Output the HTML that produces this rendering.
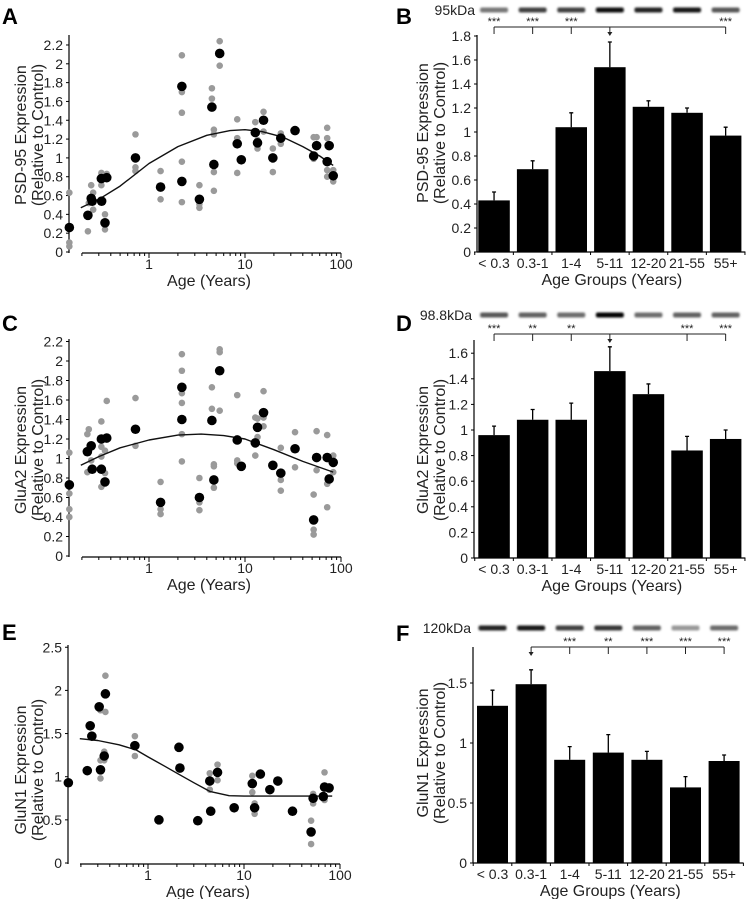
<!DOCTYPE html>
<html><head><meta charset="utf-8">
<style>
html,body{margin:0;padding:0;background:#fff;}
svg{display:block;font-family:"Liberation Sans",Arial,sans-serif;}
</style></head>
<body>
<svg id="fig" width="749" height="899" viewBox="0 0 749 899" xmlns="http://www.w3.org/2000/svg">
<defs><filter id="blur" x="-20%" y="-100%" width="140%" height="300%"><feGaussianBlur stdDeviation="1.1"/></filter></defs>
</svg>
<script>
// ---------- Panel A data (PSD-95) ----------
const aBlackAge = [0.148,0.231,0.25,0.256,0.319,0.321,0.348,0.363,0.723,1.32,2.2,2.2,3.35,4.52,4.74,5.45,8.3,9.15,12.8,13.5,15.6,19.5,23.6,33.2,51.9,55.7,71.8,75.3,83];
const aBlackVal = [0.26,0.39,0.57,0.54,0.78,0.54,0.31,0.79,1.0,0.69,0.75,1.76,0.56,1.54,0.93,2.11,1.15,0.98,1.27,1.16,1.40,1.0,1.21,1.29,1.02,1.13,0.96,1.13,0.81];
const aGreyAge = [0.148,0.148,0.148,0.231,0.236,0.25,0.262,0.262,0.319,0.319,0.348,0.348,0.363,0.723,0.723,0.723,1.32,1.32,2.2,2.2,2.2,2.2,2.2,3.35,3.35,3.35,4.52,4.52,4.74,4.74,4.74,4.74,5.45,5.45,8.3,8.3,8.3,12.8,13.5,13.5,15.6,15.6,19.5,19.5,23.6,23.6,51.9,51.9,55.7,71.8,71.8,71.8,71.8,83,83];
const aGreyVal = [0.63,0.10,0.06,0.22,0.52,0.71,0.63,0.45,0.84,0.71,0.40,0.24,0.83,1.25,0.90,0.86,0.86,0.56,2.09,1.70,1.48,0.96,0.53,0.71,0.51,0.47,1.74,1.63,1.30,1.25,0.85,0.65,2.24,1.98,1.41,1.21,0.84,1.38,1.19,1.10,1.49,1.28,1.10,0.85,1.26,1.15,1.22,0.99,1.22,1.32,1.21,0.87,0.80,0.87,0.75];
const aCurveAge = [0.195,0.3,0.5,1,2,4,7,10,15,25,40,60,83];
const aCurveVal = [0.47,0.56,0.70,0.94,1.12,1.24,1.29,1.30,1.28,1.22,1.12,1.02,0.92];
const aTicks = [0,0.2,0.4,0.6,0.8,1,1.2,1.4,1.6,1.8,2,2.2];
const aTickLabels = ["0","0.2","0.4","0.6","0.8","1","1.2","1.4","1.6","1.8","2","2.2"];

// ---------- Panel C data (GluA2) ----------
const cBlackAge = [0.148,0.228,0.25,0.256,0.319,0.319,0.348,0.363,0.723,1.32,2.2,2.2,3.35,4.52,4.74,5.45,8.3,9.15,12.8,13.5,15.6,19.5,23.6,33.2,51.9,55.7,71.8,75.3,83];
const cBlackVal = [0.73,1.07,1.13,0.89,1.20,0.89,0.76,1.21,1.30,0.55,1.73,1.40,0.60,1.39,0.78,1.90,1.19,0.92,1.16,1.32,1.47,0.93,0.85,1.10,0.37,1.01,1.01,0.79,0.96];
const cGreyAge = [0.148,0.148,0.148,0.148,0.228,0.236,0.228,0.25,0.319,0.319,0.319,0.319,0.348,0.363,0.348,0.723,0.723,1.32,1.32,1.32,2.2,2.2,2.2,2.2,2.2,2.2,3.35,3.35,3.35,4.52,4.52,4.74,4.74,4.74,5.45,5.45,5.45,8.3,8.3,8.3,12.8,12.8,13.5,13.5,15.6,15.6,15.6,23.6,23.6,23.6,33.2,33.2,51.9,51.9,51.9,55.7,55.7,71.8,71.8,71.8,83,83];
const cGreyVal = [1.06,0.64,0.48,0.40,1.25,1.30,0.86,0.98,1.38,1.12,1.02,0.71,1.08,1.59,0.85,1.62,1.13,0.76,0.48,0.43,2.07,1.90,1.67,1.57,1.25,0.97,0.80,0.55,0.47,1.73,1.51,0.94,0.92,0.70,2.12,2.09,1.49,1.65,0.98,0.95,1.42,1.03,1.41,1.22,1.69,1.42,1.33,1.11,0.78,0.67,1.27,0.91,0.63,0.27,0.22,1.28,0.88,1.24,0.74,0.50,1.03,0.86];
const cCurveAge = [0.195,0.3,0.5,1,2,3.5,6,10,20,40,83];
const cCurveVal = [0.93,1.02,1.11,1.19,1.24,1.25,1.235,1.20,1.09,0.97,0.86];

// ---------- Panel E data (GluN1) ----------
const eBlackAge = [0.148,0.233,0.25,0.26,0.31,0.32,0.35,0.36,0.73,1.3,2.1,2.15,3.3,4.4,4.5,5.3,7.9,12.2,12.9,14.8,18.6,22.5,32,50,52.5,67,69,77];
const eBlackVal = [0.93,1.07,1.59,1.47,1.81,1.08,1.24,1.96,1.36,0.50,1.34,1.10,0.49,0.95,0.60,1.05,0.64,0.92,0.64,1.03,0.85,0.95,0.60,0.36,0.75,0.77,0.88,0.87];
const eGreyAge = [0.32,0.32,0.32,0.36,0.36,0.35,0.35,0.73,0.73,2.1,4.4,4.4,5.3,5.3,12.2,12.2,12.9,12.9,50,50,52.5,52.5,69,69];
const eGreyVal = [0.98,1.19,1.77,2.17,1.75,1.29,1.19,1.47,1.24,1.36,1.04,0.85,1.14,0.96,1.01,0.82,0.69,0.57,0.49,0.22,0.80,0.69,1.05,0.73];
const eCurveAge = [0.195,0.3,0.5,0.75,1,1.5,2,3,4.4,7,10,83];
const eCurveVal = [1.44,1.42,1.37,1.31,1.23,1.12,1.04,0.93,0.83,0.78,0.775,0.775];
const eTicks = [0,0.5,1,1.5,2,2.5];
const eTickLabels = ["0","0.5","1","1.5","2","2.5"];

// ---------- Bar panels ----------
const groups = ["< 0.3","0.3-1","1-4","5-11","12-20","21-55","55+"];
const bVals = [0.43,0.69,1.04,1.54,1.21,1.16,0.97];
const bErr  = [0.07,0.07,0.12,0.21,0.05,0.04,0.07];
const bStars = ["***","***","***","","","","***"];
const bBand = [0.45,0.7,0.7,0.95,0.85,0.9,0.6];
const dVals = [0.96,1.08,1.08,1.46,1.28,0.84,0.93];
const dErr  = [0.07,0.08,0.13,0.19,0.08,0.11,0.07];
const dStars = ["***","**","**","","","***","***"];
const dBand = [0.6,0.55,0.5,1.0,0.5,0.55,0.55];
const fVals = [1.31,1.49,0.86,0.92,0.86,0.63,0.85];
const fErr  = [0.13,0.12,0.11,0.15,0.07,0.09,0.05];
const fStars = ["","","***","**","***","***","***"];
const fBand = [0.85,0.9,0.7,0.75,0.55,0.3,0.5];
const bTicks = [0,0.2,0.4,0.6,0.8,1,1.2,1.4,1.6,1.8];
const dTicks = [0,0.2,0.4,0.6,0.8,1,1.2,1.4,1.6];
const fTicks = [0,0.5,1,1.5];

const NS = "http://www.w3.org/2000/svg";
const svg = document.getElementById('fig');
function el(tag, attrs, parent, text){
  const e = document.createElementNS(NS, tag);
  for (const k in attrs) e.setAttribute(k, attrs[k]);
  if (text !== undefined) e.textContent = text;
  (parent || svg).appendChild(e);
  return e;
}
function fmt(v){ return String(Math.round(v*100)/100); }

function scatterPanel(o){
  const g = el('g', {});
  
  
  const xs = a => o.x1 + o.dec*Math.log10(a);
  const ys = v => o.y0 - v*o.ppu;
  // letter
  const L = el('text', {x:o.lx, y:o.ly, 'font-size':22, 'font-weight':'bold'}, g, o.letter);
  
  
  // y axis
  const ya = el('line', {x1:o.ax, y1:o.top, x2:o.ax, y2:o.y0+1, stroke:'#000', 'stroke-width':1.2}, g);
  
  
  o.ticks.forEach((t,i)=>{
    el('line', {x1:o.ax-3, y1:ys(t), x2:o.ax, y2:ys(t), stroke:'#000'}, g);
    const tl = el('text', {x:o.ax-6, y:ys(t)+5, 'font-size':14, 'text-anchor':'end', fill:'#222'}, g, o.tickLabels[i]);
    
    
  });
  // x axis
  const xy = o.y0 + 1;
  const xa = el('line', {x1:o.xStart, y1:xy, x2:o.x1+2*o.dec, y2:xy, stroke:'#000', 'stroke-width':1.2}, g);
  
  
  for (let d=-1; d<=1; d++){
    for (let m=1; m<=9; m++){
      const a = m*Math.pow(10,d);
      const x = xs(a);
      if (x < o.xStart-0.5) continue;
      el('line', {x1:x, y1:xy, x2:x, y2:xy+(m===1?5:3), stroke:'#000'}, g);
    }
  }
  el('line', {x1:xs(100), y1:xy, x2:xs(100), y2:xy+5, stroke:'#000'}, g);
  [[1,"1"],[10,"10"],[100,"100"]].forEach(p=>{
    const t = el('text', {x:xs(p[0]), y:xy+16, 'font-size':14, 'text-anchor':'middle', fill:'#222'}, g, p[1]);
    
    
  });
  const xt = el('text', {x:(o.x1+o.x1+o.dec)/2+12, y:xy+33, 'font-size':16, 'text-anchor':'middle', fill:'#222'}, g, 'Age (Years)');
  
  
  const yt = el('text', {transform:`translate(${o.tx},${o.tcy}) rotate(-90)`, 'font-size':16, 'text-anchor':'middle', fill:'#222'}, g);
  
  
  el('tspan', {x:0, y:0}, yt, o.title1);
  el('tspan', {x:0, y:17}, yt, '(Relative to Control)');
  // grey points
  o.gAge.forEach((a,i)=>{
    const c = el('circle', {cx:xs(a), cy:ys(o.gVal[i]), r:3.3, fill:'#9a9a9a'}, g);
    
    
  });
  // curve
  let d = '';
  o.cAge.forEach((a,i)=>{ d += (i?'L':'M') + xs(a).toFixed(1) + ',' + ys(o.cVal[i]).toFixed(1); });
  const cu = el('path', {d:d, fill:'none', stroke:'#111', 'stroke-width':1.4, 'stroke-linejoin':'round'}, g);
  
  
  // black points
  o.bAge.forEach((a,i)=>{
    const c = el('circle', {cx:xs(a), cy:ys(o.bVal[i]), r:4.8, fill:'#000'}, g);
    
    
  });
}

function barPanel(o){
  const g = el('g', {});
  
  
  const ys = v => o.y0 - v*o.ppu;
  const bx = i => o.bar0 + i*o.step;
  const cx = i => bx(i) + o.bw/2;
  const L = el('text', {x:o.lx, y:o.ly, 'font-size':22, 'font-weight':'bold'}, g, o.letter);
  
  
  // blot
  const kd = el('text', {x:o.ax-2, y:o.blotY+5, 'font-size':o.kdSize||14, 'text-anchor':'end', fill:'#222'}, g, o.kda);
  
  
  o.band.forEach((b,i)=>{
    const v = Math.round(255*(1-b)*0.85);
    const r = el('rect', {x:cx(i)-14, y:o.blotY-2.5, width:28, height:5, rx:2, fill:`rgb(${v},${v},${v})`, filter:'url(#blur)'}, g);
    
    
  });
  // bracket
  const idx = o.stars.map((s,i)=>s?i:-1).filter(i=>i>=0).concat([o.ref]);
  const lo = Math.min(...idx), hi = Math.max(...idx);
  const br = el('line', {x1:cx(lo), y1:o.brY, x2:cx(hi), y2:o.brY, stroke:'#222', 'stroke-width':1}, g);
  
  
  o.stars.forEach((s,i)=>{
    if (!s) return;
    el('line', {x1:cx(i), y1:o.brY, x2:cx(i), y2:o.brY+7, stroke:'#222'}, g);
    const st = el('text', {x:cx(i), y:o.brY-2, 'font-size':11, 'text-anchor':'middle', fill:'#222'}, g, s);
    
    
  });
  el('line', {x1:cx(o.ref), y1:o.brY, x2:cx(o.ref), y2:o.brY+7, stroke:'#222'}, g);
  el('path', {d:`M${cx(o.ref)-2.5},${o.brY+5}L${cx(o.ref)+2.5},${o.brY+5}L${cx(o.ref)},${o.brY+9}Z`, fill:'#222'}, g);
  // axes
  const ya = el('line', {x1:o.ax, y1:o.top, x2:o.ax, y2:o.y0, stroke:'#000', 'stroke-width':1.2}, g);
  
  
  o.ticks.forEach(t=>{
    el('line', {x1:o.ax-3, y1:ys(t), x2:o.ax, y2:ys(t), stroke:'#000'}, g);
    const tl = el('text', {x:o.ax-6, y:ys(t)+5, 'font-size':14, 'text-anchor':'end', fill:'#222'}, g, fmt(t));
    
    
  });
  const xa = el('line', {x1:o.ax, y1:o.y0, x2:bx(6)+o.bw+4, y2:o.y0, stroke:'#000', 'stroke-width':1.2}, g);
  
  
  for (let i=0;i<=7;i++){ const x = bx(i)-(o.step-o.bw)/2; el('line', {x1:x, y1:o.y0, x2:x, y2:o.y0+3, stroke:'#000'}, g); }
  // bars
  o.vals.forEach((v,i)=>{
    const r = el('rect', {x:bx(i), y:ys(v), width:o.bw, height:v*o.ppu, fill:'#000'}, g);
    
    
    const e = el('path', {d:`M${cx(i)},${ys(v)}V${ys(v+o.err[i])}M${cx(i)-2},${ys(v+o.err[i])}H${cx(i)+2}`, stroke:'#000', 'stroke-width':1.3, fill:'none'}, g);
    
    
    const t = el('text', {x:cx(i), y:o.y0+16, 'font-size':14, 'text-anchor':'middle', fill:'#222'}, g, groups[i]);
    
    
  });
  const xt = el('text', {x:cx(3)+2, y:o.y0+33, 'font-size':16, 'text-anchor':'middle', fill:'#222'}, g, 'Age Groups (Years)');
  
  
  const yt = el('text', {transform:`translate(${o.tx},${o.tcy}) rotate(-90)`, 'font-size':16, 'text-anchor':'middle', fill:'#222'}, g);
  
  
  el('tspan', {x:0, y:0}, yt, o.title1);
  el('tspan', {x:0, y:17}, yt, '(Relative to Control)');
}

scatterPanel({name:'panel-a-psd95-scatter', letter:'A', lx:2, ly:24, ax:69, top:35, y0:252, ppu:94.1, x1:149, dec:96, xStart:82,
  ticks:aTicks, tickLabels:aTickLabels, tx:26, tcy:135, title1:'PSD-95 Expression',
  gAge:aGreyAge, gVal:aGreyVal, bAge:aBlackAge, bVal:aBlackVal, cAge:aCurveAge, cVal:aCurveVal});
scatterPanel({name:'panel-c-glua2-scatter', letter:'C', lx:2, ly:331, ax:69, top:339, y0:556, ppu:97.5, x1:149, dec:96, xStart:82,
  ticks:aTicks, tickLabels:aTickLabels, tx:26, tcy:450, title1:'GluA2 Expression',
  gAge:cGreyAge, gVal:cGreyVal, bAge:cBlackAge, bVal:cBlackVal, cAge:cCurveAge, cVal:cCurveVal});
scatterPanel({name:'panel-e-glun1-scatter', letter:'E', lx:2, ly:640, ax:68, top:645, y0:863, ppu:86.3, x1:148, dec:96, xStart:80,
  ticks:eTicks, tickLabels:eTickLabels, tx:26, tcy:770, title1:'GluN1 Expression',
  gAge:eGreyAge, gVal:eGreyVal, bAge:eBlackAge, bVal:eBlackVal, cAge:eCurveAge, cVal:eCurveVal});

barPanel({name:'panel-b-psd95-bars', letter:'B', lx:396, ly:24, ax:477, top:35, y0:252, ppu:120, bar0:478.3, step:38.6, bw:31.5,
  vals:bVals, err:bErr, stars:bStars, ref:3, band:bBand, kda:'95kDa', blotY:10, brY:27, ticks:bTicks, tx:428, tcy:133, title1:'PSD-95 Expression'});
barPanel({name:'panel-d-glua2-bars', letter:'D', lx:396, ly:331, ax:474, top:340, y0:558, ppu:128, bar0:478.3, step:38.6, bw:31.5,
  vals:dVals, err:dErr, stars:dStars, ref:3, band:dBand, kda:'98.8kDa', blotY:315, brY:334, ticks:dTicks, tx:428, tcy:450, title1:'GluA2 Expression'});
barPanel({name:'panel-f-glun1-bars', letter:'F', lx:396, ly:641, ax:473, top:647, y0:863, ppu:120, bar0:477, step:38.6, bw:31,
  vals:fVals, err:fErr, stars:fStars, ref:1, band:fBand, kda:'120kDa', blotY:628, brY:647, ticks:fTicks, tx:428, tcy:753, title1:'GluN1 Expression'});
</script>
</body></html>
